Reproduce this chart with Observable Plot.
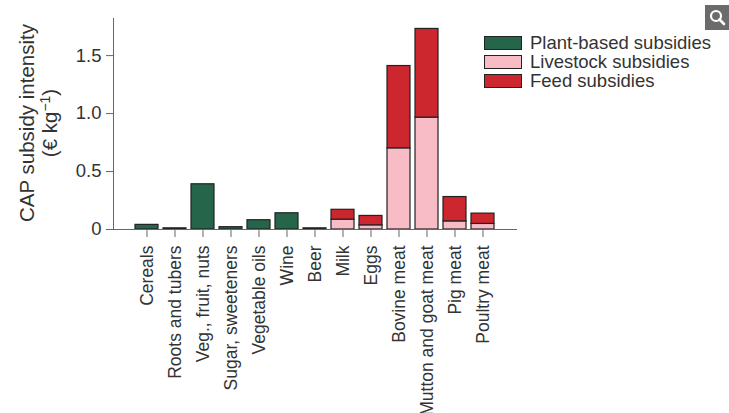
<!DOCTYPE html>
<html>
<head>
<meta charset="utf-8">
<script src="https://cdn.jsdelivr.net/npm/d3@7"></script>
<script src="https://cdn.jsdelivr.net/npm/@observablehq/plot@0.6"></script>
<style>
  html, body { margin: 0; padding: 0; background: #fff; }
  #wrap { position: relative; width: 729px; height: 413px; overflow: hidden; font-family: "Liberation Sans", Arial, sans-serif; }
  #legend { position: absolute; left: 484px; top: 33px; font-size: 18.5px; color: #333; line-height: 19px; }
  #legend .row { display: flex; align-items: center; white-space: nowrap; height: 19px; }
  #legend .sw { width: 36px; height: 12px; border: 1px solid #222; margin-right: 8px; }
  #icon { position: absolute; left: 705px; top: 5px; width: 24px; height: 25px; background: #6b6b6b; }
</style>
</head>
<body>
<div id="wrap">
  <div id="chart"></div>
  <div id="legend"></div>
  <div id="icon">
    <svg width="24" height="25" viewBox="0 0 24 25">
      <circle cx="11" cy="11" r="5" fill="none" stroke="#fff" stroke-width="2.2"/>
      <line x1="14.5" y1="14.5" x2="19" y2="19" stroke="#fff" stroke-width="2.6" stroke-linecap="round"/>
    </svg>
  </div>
</div>
<script>
const categories = ["Cereals", "Roots and tubers", "Veg., fruit, nuts", "Sugar, sweeteners", "Vegetable oils", "Wine", "Beer", "Milk", "Eggs", "Bovine meat", "Mutton and goat meat", "Pig meat", "Poultry meat"];
const plantBased = [0.04, 0.01, 0.39, 0.02, 0.08, 0.14, 0.01, 0, 0, 0, 0, 0, 0];
const livestock  = [0, 0, 0, 0, 0, 0, 0, 0.085, 0.036, 0.70, 0.965, 0.07, 0.048];
const feed       = [0, 0, 0, 0, 0, 0, 0, 0.085, 0.081, 0.71, 0.765, 0.21, 0.089];
const seriesNames = ["Plant-based subsidies", "Livestock subsidies", "Feed subsidies"];
const seriesColors = ["#25654a", "#f8bcc6", "#cc262e"];
const yTicks = [0, 0.5, 1.0, 1.5];

const data = [];
categories.forEach((c, i) => {
  [plantBased, livestock, feed].forEach((arr, k) => {
    if (arr[i] > 0) data.push({category: c, series: seriesNames[k], value: arr[i]});
  });
});

const chart = Plot.plot({
  width: 729,
  height: 413,
  marginTop: 18,
  marginBottom: 184,
  marginLeft: 113,
  marginRight: 212,
  style: {fontFamily: "'Liberation Sans', Arial, sans-serif", color: "#333", background: "transparent"},
  x: {domain: categories, paddingInner: 0.17, paddingOuter: 0.62, label: null},
  y: {domain: [0, 1.82], label: null},
  color: {domain: seriesNames, range: seriesColors},
  marks: [
    Plot.barY(data, Plot.stackY({x: "category", y: "value", fill: "series", order: seriesNames, stroke: "#222", strokeWidth: 1.2})),
    Plot.axisY({ticks: yTicks, tickFormat: d => d === 0 ? "0" : d.toFixed(1), tickSize: 7, tickPadding: 5, fontSize: 18.5, stroke: "#666", label: null}),
    Plot.axisX({tickRotate: -90, tickSize: 8, tickPadding: 8, fontSize: 17.5, stroke: "#666", label: null}),
    Plot.frame({anchor: "left", stroke: "#666"}),
    Plot.ruleY([0], {stroke: "#666"})
  ]
});
document.getElementById("chart").appendChild(chart);

// y-axis title (two lines, rotated)
const svg = d3.select(chart);
const lab = svg.append("text")
  .attr("transform", "translate(0,123) rotate(-90)")
  .attr("text-anchor", "middle")
  .attr("fill", "#333")
  .style("font-size", "20.5px");
lab.append("tspan").attr("x", 0).attr("y", 34).text("CAP subsidy intensity");
const l2 = lab.append("tspan").attr("x", 0).attr("y", 57);
l2.append("tspan").text("(€ kg");
l2.append("tspan").attr("dy", -7).style("font-size", "14px").text("−1");
l2.append("tspan").attr("dy", 7).text(")");

// legend
const legend = document.getElementById("legend");
seriesNames.forEach((name, k) => {
  const row = document.createElement("div");
  row.className = "row";
  const sw = document.createElement("div");
  sw.className = "sw";
  sw.style.background = seriesColors[k];
  row.appendChild(sw);
  const t = document.createElement("span");
  t.textContent = name;
  row.appendChild(t);
  legend.appendChild(row);
});
</script>
</body>
</html>
